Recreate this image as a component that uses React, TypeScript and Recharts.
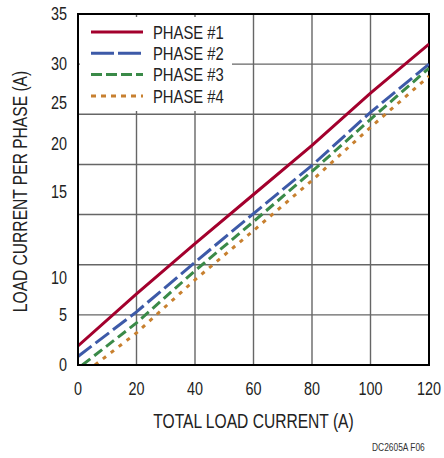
import React from 'react';
import { LineChart, Line, XAxis, YAxis, CartesianGrid, Legend, ReferenceArea, Label } from 'recharts';

const xTicks = [0, 20, 40, 60, 80, 100, 120];
const yTicks = [0, 5, 10, 15, 20, 25, 30, 35];

const phase1X = [0, 20, 40, 60, 80, 100, 120];
const phase1Y = [1.9, 7.1, 12.1, 17.0, 21.9, 27.1, 32.0];
const phase2X = [0, 20, 40, 60, 80, 100, 120];
const phase2Y = [0.85, 5.3, 10.25, 15.1, 19.9, 25.2, 30.0];
const phase3X = [1.5, 20, 40, 60, 80, 100, 120];
const phase3Y = [0, 4.2, 9.4, 14.3, 19.3, 24.5, 29.6];
const phase4X = [5.8, 20, 40, 60, 80, 100, 120];
const phase4Y = [0, 3.2, 8.5, 13.4, 18.4, 23.7, 28.8];

const seriesNames = ['PHASE #1', 'PHASE #2', 'PHASE #3', 'PHASE #4'];
const xTitle = 'TOTAL LOAD CURRENT (A)';
const yTitle = 'LOAD CURRENT PER PHASE (A)';
const figId = 'DC2605A F06';

const toRows = (xs: number[], ys: number[]) => xs.map((x, i) => ({ x, y: ys[i] }));

const series = [
  { name: seriesNames[0], data: toRows(phase1X, phase1Y), color: '#a3002d', dash: undefined as string | undefined, legendDash: undefined as string | undefined },
  { name: seriesNames[1], data: toRows(phase2X, phase2Y), color: '#3d5aa8', dash: '17 5', legendDash: '23 4' },
  { name: seriesNames[2], data: toRows(phase3X, phase3Y), color: '#3a8a48', dash: '10 5', legendDash: '11 4' },
  { name: seriesNames[3], data: toRows(phase4X, phase4Y), color: '#c8802f', dash: '4 6', legendDash: '5 5' },
];

const FONT = '"Liberation Sans", Arial, sans-serif';
const TEXT = '#222';
const SQUEEZE = 0.8;

// Narrow text: Liberation Sans squeezed horizontally, like the condensed face of the reference
const NText = ({ x, y, size, anchor = 'start', rotate = 0, dy = '0', children }: any) => (
  <g transform={`translate(${x},${y}) rotate(${rotate}) scale(${SQUEEZE},1)`}>
    <text x={0} y={0} dy={dy} textAnchor={anchor} fill={TEXT} fontSize={size} fontFamily={FONT}>
      {children}
    </text>
  </g>
);

// The reference places some y labels away from their gridlines
const yLabelShift: Record<number, number> = { 30: -1, 25: -12, 20: -21, 15: -23, 10: 13 };

const YTick = (props: any) => {
  const { x, y, payload } = props;
  const s = yLabelShift[payload.value] || 0;
  return <NText x={x} y={y + s} size={18} anchor="end" dy="0.355em">{payload.value}</NText>;
};

const XTick = (props: any) => {
  const { x, y, payload } = props;
  return <NText x={x} y={y} size={18} anchor="middle" dy="0.71em">{payload.value}</NText>;
};

const XTitle = (props: any) => {
  const vb = props.viewBox;
  return <NText x={vb.x + vb.width / 2} y={vb.y + vb.height - 30} size={19.5} anchor="middle">{xTitle}</NText>;
};

const YTitle = (props: any) => {
  const vb = props.viewBox;
  return <NText x={vb.x + 20} y={vb.y + vb.height / 2 + 2} size={19.5} anchor="middle" rotate={-90} dy="0.36em">{yTitle}</NText>;
};

const LegendContent = () => (
  <div style={{ background: '#fff', width: '100%', height: '100%', position: 'relative' }}>
    <svg width={155} height={96} style={{ display: 'block' }}>
      {series.map((s, i) => (
        <g key={s.name}>
          <line x1={11} x2={63} y1={15 + i * 21.3} y2={15 + i * 21.3} stroke={s.color} strokeWidth={3} strokeDasharray={s.legendDash} />
          <NText x={73} y={15 + i * 21.3} size={18.5} dy="0.36em">{s.name}</NText>
        </g>
      ))}
    </svg>
  </div>
);

export default function App() {
  return (
    <div style={{ position: 'absolute', left: 0, top: 0, width: 444, height: 458, background: '#fff' }}>
      <LineChart width={444} height={458} margin={{ top: 14, right: 15, bottom: 0, left: 0 }}>
        <CartesianGrid stroke="#666" strokeWidth={1.4} />
        <XAxis
          type="number"
          dataKey="x"
          domain={[0, 120]}
          ticks={xTicks}
          height={93}
          tickLine={false}
          axisLine={{ stroke: '#000', strokeWidth: 2 }}
          tickMargin={11}
          tick={<XTick />}
          interval={0}
          allowDataOverflow
        >
          <Label content={<XTitle />} />
        </XAxis>
        <YAxis
          type="number"
          domain={[0, 35]}
          ticks={yTicks}
          width={78}
          tickLine={false}
          axisLine={{ stroke: '#000', strokeWidth: 2 }}
          tickMargin={5}
          tick={<YTick />}
          interval={0}
          allowDataOverflow
        >
          <Label content={<YTitle />} />
        </YAxis>
        <ReferenceArea x1={0} x2={120} y1={0} y2={35} fill="none" stroke="#000" strokeWidth={2} ifOverflow="visible" />
        {series.map((s) => (
          <Line
            key={s.name}
            data={s.data}
            dataKey="y"
            name={s.name}
            type="linear"
            stroke={s.color}
            strokeWidth={3}
            strokeDasharray={s.dash}
            dot={false}
            activeDot={false}
            isAnimationActive={false}
          />
        ))}
        <Legend
          layout="vertical"
          align="center"
          verticalAlign="middle"
          content={<LegendContent />}
          wrapperStyle={{ position: 'absolute', left: 80, top: 17, width: 152, height: 94, margin: 0 }}
        />
      </LineChart>
      <div
        style={{
          position: 'absolute',
          left: 372,
          top: 441,
          fontFamily: FONT,
          fontSize: 10.5,
          color: '#333',
          whiteSpace: 'nowrap',
          transform: `scaleX(${SQUEEZE})`,
          transformOrigin: '0 0',
        }}
      >
        {figId}
      </div>
    </div>
  );
}
